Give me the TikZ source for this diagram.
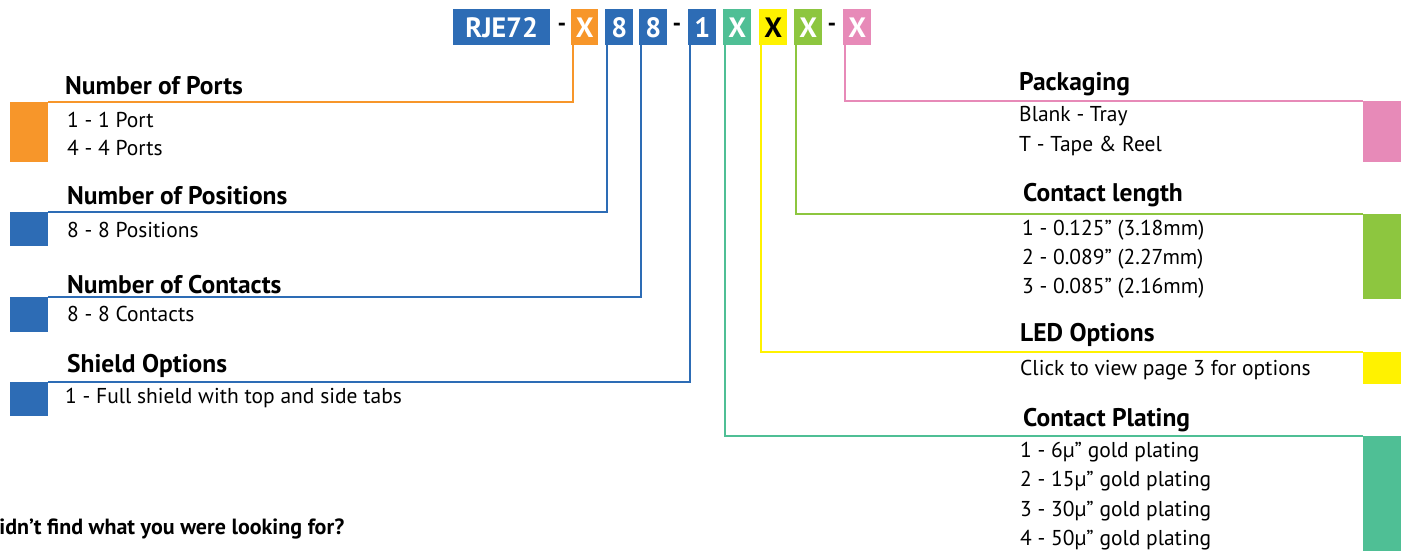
\documentclass[tikz,border=0pt]{standalone}
\usepackage{fontspec}
\setmainfont{PT Sans}
\definecolor{corange}{HTML}{F7962A}
\definecolor{cblue}{HTML}{2D6CB5}
\definecolor{cteal}{HTML}{4FBF95}
\definecolor{cyellow}{HTML}{FFF200}
\definecolor{cgreen}{HTML}{8DC63F}
\definecolor{cpink}{HTML}{E78AB8}
\begin{document}
\begin{tikzpicture}[x=1pt,y=-1pt,
  codebox/.style={anchor=north west,inner sep=0pt,minimum height=36pt,text=white,font=\fontsize{28}{28}\selectfont\bfseries},
  dashtxt/.style={inner sep=0pt,font=\fontsize{24}{24}\selectfont\bfseries},
  head/.style={anchor=west,inner sep=0pt,font=\fontsize{25.5}{26}\selectfont\bfseries},
  item/.style={anchor=west,inner sep=0pt,font=\fontsize{21.5}{22}\selectfont},
  blk/.style={anchor=north west,inner sep=0pt,minimum width=38pt},
  lnk/.style={line width=2pt}]
\useasboundingbox (0,0) rectangle (1408,550);
\clip (0,0) rectangle (1408,550);
% code boxes
\node[codebox,fill=cblue,minimum width=97pt] (rje) at (453,9) {RJE72};
\node[dashtxt] (d1) at (562,27) {-};
\node[codebox,fill=corange,minimum width=27pt] (xo) at (571,9) {X};
\node[codebox,fill=cblue,minimum width=28pt] (p8) at (605,9) {8};
\node[codebox,fill=cblue,minimum width=28pt] (c8) at (639,9) {8};
\node[dashtxt] (d2) at (677,27) {-};
\node[codebox,fill=cblue,minimum width=28pt] (s1) at (688,9) {1};
\node[codebox,fill=cteal,minimum width=28pt] (xt) at (723,9) {X};
\node[codebox,fill=cyellow,minimum width=28pt,text=black] (xy) at (759,9) {X};
\node[codebox,fill=cgreen,minimum width=28pt] (xg) at (794,9) {X};
\node[dashtxt] (d3) at (832,27) {-};
\node[codebox,fill=cpink,minimum width=28pt] (xp) at (843,9) {X};
% left blocks
\node[blk,fill=corange,minimum height=60pt] (bo) at (10,102) {};
\node[blk,fill=cblue,minimum height=34pt] (bpos) at (10,212) {};
\node[blk,fill=cblue,minimum height=35pt] (bcon) at (10,297) {};
\node[blk,fill=cblue,minimum height=34pt] (bsh) at (10,382) {};
% right blocks
\node[blk,fill=cpink,minimum height=61pt] (bpk) at (1363,101) {};
\node[blk,fill=cgreen,minimum height=85pt] (bcl) at (1363,214) {};
\node[blk,fill=cyellow,minimum height=32pt] (bled) at (1363,352) {};
\node[blk,fill=cteal,minimum height=120pt] (bpl) at (1363,436) {};
% connectors
\draw[lnk,corange] ([xshift=2pt]xo.south west) |- (bo.north east);
\draw[lnk,cblue] ([xshift=2pt]p8.south west) |- (bpos.north east);
\draw[lnk,cblue] ([xshift=2pt]c8.south west) |- (bcon.north east);
\draw[lnk,cblue] ([xshift=2pt]s1.south west) |- (bsh.north east);
\draw[lnk,cteal] ([xshift=2pt]xt.south west) |- (bpl.north west);
\draw[lnk,cyellow] ([xshift=2pt]xy.south west) |- (bled.north west);
\draw[lnk,cgreen] ([xshift=2pt]xg.south west) |- (bcl.north west);
\draw[lnk,cpink] ([xshift=2pt]xp.south west) |- (bpk.north west);
% left texts
\node[head] (h1) at (65,86) {Number of Ports};
\node[item] (i11) at (67,120) {1 - 1 Port};
\node[item] (i12) at (67,148) {4 - 4 Ports};
\node[head] (h2) at (67,196) {Number of Positions};
\node[item] (i21) at (67,230) {8 - 8 Positions};
\node[head] (h3) at (67,285) {Number of Contacts};
\node[item] (i31) at (67,314) {8 - 8 Contacts};
\node[head] (h4) at (67,366) {Shield Options};
\node[item] (i41) at (65,398) {1 - Full shield with top and side tabs};
% right texts
\node[head] (h5) at (1019,84) {Packaging};
\node[item] (i51) at (1019,116) {Blank - Tray};
\node[item] (i52) at (1019,146) {T - Tape \& Reel};
\node[head] (h6) at (1023,195) {Contact length};
\node[item] (i61) at (1022,230) {1 - 0.125” (3.18mm)};
\node[item] (i62) at (1022,259) {2 - 0.089” (2.27mm)};
\node[item] (i63) at (1022,288) {3 - 0.085” (2.16mm)};
\node[head] (h7) at (1020,335) {LED Options};
\node[item] (i71) at (1020,370) {Click to view page 3 for options};
\node[head] (h8) at (1023,420) {Contact Plating};
\node[item] (i81) at (1020,452) {1 - 6µ” gold plating};
\node[item] (i82) at (1020,481) {2 - 15µ” gold plating};
\node[item] (i83) at (1020,511) {3 - 30µ” gold plating};
\node[item] (i84) at (1020,540) {4 - 50µ” gold plating};
% bottom left
\node[anchor=west,inner sep=0pt,font=\fontsize{22}{22}\selectfont\bfseries] (q) at (-15,529) {Didn’t find what you were looking for?};
\end{tikzpicture}
\end{document}
